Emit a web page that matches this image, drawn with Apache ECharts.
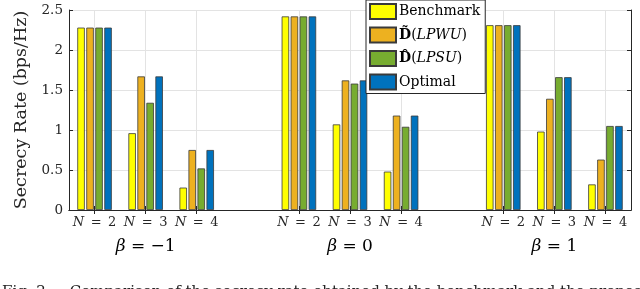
<!DOCTYPE html>
<html><head><meta charset="utf-8">
<script src="https://cdn.jsdelivr.net/npm/echarts@6/dist/echarts.min.js"></script>
<style>html,body{margin:0;padding:0;background:#fff}#c{width:640px;height:289px}</style>
</head><body><div id="c"></div>
<script>
// ---- data ----
const nValues = ['2', '3', '4'];
const betaLabels = ['\u22121', '0', '1'];
const seriesNames = ['Benchmark', 'LPWU', 'LPSU', 'Optimal'];
const benchmark = [2.28, 0.96, 0.28, 2.42, 1.07, 0.48, 2.31, 0.98, 0.32];
const lpwu      = [2.28, 1.67, 0.75, 2.42, 1.62, 1.18, 2.31, 1.39, 0.63];
const lpsu      = [2.28, 1.34, 0.52, 2.42, 1.58, 1.04, 2.31, 1.66, 1.05];
const optimal   = [2.28, 1.67, 0.75, 2.42, 1.62, 1.18, 2.31, 1.66, 1.05];
const yMin = 0, yMax = 2.5, yInterval = 0.5;
const captionText = 'Fig. 2.    Comparison of the secrecy rate obtained by the benchmark and the proposed algorithms with';

// ---- build categories (with an empty slot between beta groups) ----
const cats = [], nLab = [], betaLab = [];
betaLabels.forEach((b, g) => {
  nValues.forEach((n, k) => {
    cats.push('g' + g + 'n' + n);
    nLab.push(n);
    betaLab.push(k === 1 ? b : '');
  });
  if (g < betaLabels.length - 1) { cats.push('gap' + g); nLab.push(''); betaLab.push(''); }
});
function expand(arr) {
  const out = []; let i = 0;
  cats.forEach(c => { if (c.startsWith('gap')) out.push(null); else out.push(arr[i++]); });
  return out;
}
const colors = ['#FFFF00', '#EDB120', '#77AC30', '#0072BD'];
const allData = [benchmark, lpwu, lpsu, optimal];
const FONT = 'DejaVu Serif';
const TXT = '#262626';
const isReal = (i) => nLab[i] !== '';

const chart = echarts.init(document.getElementById('c'), null, {renderer: 'canvas'});
chart.setOption({
  animation: false,
  backgroundColor: '#fff',
  grid: {left: 69, right: 9, top: 10, bottom: 79, containLabel: false},
  legend: {
    data: seriesNames,
    orient: 'vertical',
    left: 366, top: 0,
    backgroundColor: '#fff',
    borderColor: '#262626', borderWidth: 1,
    padding: [3, 5, 3, 3],
    itemWidth: 26, itemHeight: 15, itemGap: 6.5,
    icon: 'rect',
    textStyle: {
      fontFamily: FONT, fontSize: 14, color: '#000', padding: [0, 0, 0, -2],
      rich: {
        b: {fontFamily: FONT, fontSize: 14, fontWeight: 'bold', color: '#000'},
        r: {fontFamily: FONT, fontSize: 14, color: '#000'},
        i: {fontFamily: FONT, fontSize: 14, fontStyle: 'italic', color: '#000'}
      }
    },
    formatter: function (name) {
      if (name === 'LPWU') return '{b|D\u0303}{r|(}{i|LPWU}{r|)}';
      if (name === 'LPSU') return '{b|D\u0302}{r|(}{i|LPSU}{r|)}';
      return name;
    }
  },
  xAxis: [
    {
      type: 'category', data: cats, position: 'bottom', boundaryGap: true,
      axisLine: {show: true, lineStyle: {color: TXT, width: 1}},
      axisTick: {show: true, inside: true, alignWithLabel: true, length: 4, interval: (i) => isReal(i), lineStyle: {color: TXT}},
      splitLine: {show: true, alignWithLabel: true, interval: (i) => isReal(i), lineStyle: {color: '#e3e3e3', width: 1}},
      axisLabel: {
        interval: 0, margin: 6, color: TXT, fontFamily: FONT, fontSize: 13,
        formatter: (v, i) => nLab[i] ? '{i|N}{r|\u2002=\u2002' + nLab[i] + '}' : '',
        rich: {
          i: {fontFamily: FONT, fontSize: 13, fontStyle: 'italic', color: TXT},
          r: {fontFamily: FONT, fontSize: 13, color: TXT}
        }
      }
    },
    {
      type: 'category', data: cats, position: 'top', boundaryGap: true,
      axisLine: {show: true, lineStyle: {color: TXT, width: 1}},
      axisTick: {show: true, inside: true, alignWithLabel: true, length: 4, interval: (i) => isReal(i), lineStyle: {color: TXT}},
      axisLabel: {show: false}, splitLine: {show: false}
    },
    {
      type: 'category', data: cats, position: 'bottom', offset: 22, boundaryGap: true,
      axisLine: {show: false}, axisTick: {show: false}, splitLine: {show: false},
      axisLabel: {
        interval: 0, margin: 6, color: '#000', fontFamily: FONT, fontSize: 17,
        formatter: (v, i) => betaLab[i] ? '{i|\u03B2}{r| = ' + betaLab[i] + '}' : '',
        rich: {
          i: {fontFamily: FONT, fontSize: 17, fontStyle: 'italic', color: '#000'},
          r: {fontFamily: FONT, fontSize: 17, color: '#000'}
        }
      }
    }
  ],
  yAxis: [
    {
      type: 'value', min: yMin, max: yMax, interval: yInterval, position: 'left',
      name: 'Secrecy Rate (bps/Hz)', nameLocation: 'middle', nameGap: 35, nameRotate: 90,
      nameTextStyle: {fontFamily: FONT, fontSize: 17.5, color: TXT},
      axisLine: {show: true, lineStyle: {color: TXT, width: 1}},
      axisTick: {show: true, inside: true, length: 4, lineStyle: {color: TXT}},
      splitLine: {show: true, lineStyle: {color: '#e3e3e3', width: 1}},
      axisLabel: {margin: 6, color: TXT, fontFamily: FONT, fontSize: 13.5}
    },
    {
      type: 'value', min: yMin, max: yMax, interval: yInterval, position: 'right',
      axisLine: {show: true, lineStyle: {color: TXT, width: 1}},
      axisTick: {show: true, inside: true, length: 4, lineStyle: {color: TXT}},
      splitLine: {show: false}, axisLabel: {show: false}
    }
  ],
  series: seriesNames.map((name, s) => ({
    name: name, type: 'bar', xAxisIndex: 0, yAxisIndex: 0,
    data: expand(allData[s]),
    barWidth: 7.5, barGap: '20%',
    itemStyle: {color: colors[s], borderColor: '#3a3a3a', borderWidth: 0.8}
  })),
  graphic: [{
    type: 'text', left: 2, top: 285,
    style: {text: captionText, font: '15px "DejaVu Serif"', fill: '#222'}
  }]
});
</script>
</body></html>
